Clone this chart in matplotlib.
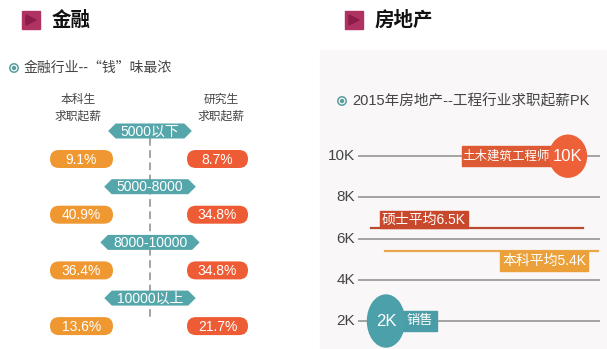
import matplotlib
matplotlib.use("Agg")
import matplotlib.pyplot as plt
from matplotlib.patches import Rectangle, FancyBboxPatch, Polygon, Ellipse, Circle

plt.rcParams['font.family'] = ['Liberation Sans', 'Noto Sans CJK SC', 'DejaVu Sans']

# ---- data ----
salary_bands = ['5000以下', '5000-8000', '8000-10000', '10000以上']
bachelor_pct = [9.1, 40.9, 36.4, 13.6]
master_pct = [8.7, 34.8, 34.8, 21.7]

re_titles = ['土木建筑工程师', '硕士平均', '本科平均', '销售']
re_values = [10, 6.5, 5.4, 2]
re_ticks = [2, 4, 6, 8, 10]

# ---- colours ----
C_BACH = '#ef9832'
C_MAST = '#ee5c36'
C_TEAL = '#55a6ab'
C_TEXT = '#444444'
C_ICON = '#5a9e9e'

W, H = 607, 349
fig = plt.figure(figsize=(W / 100, H / 100), dpi=100)
base = fig.add_axes([0, 0, 1, 1])
base.set_xlim(0, W)
base.set_ylim(H, 0)
base.axis('off')

# right panel background
base.add_patch(Rectangle((320, 50), 287, 299, color='#f9f7f7', zorder=0))


def heading(x, y, label):
    base.add_patch(Rectangle((x, y - 9), 18, 18, color='#b03262', zorder=2))
    base.add_patch(Polygon([(x + 4, y - 5), (x + 4, y + 5), (x + 14, y)],
                           closed=True, color='#8c1d48', zorder=3))
    base.text(x + 30, y, label, fontsize=14, fontweight='bold',
              va='center', ha='left', color='#111111',
              family=['Noto Sans CJK SC'])


def subtitle(x, y, label, size, family=None):
    base.add_patch(Circle((x, y), 4.2, fill=False, ec=C_ICON, lw=1.1, zorder=3))
    base.add_patch(Circle((x, y), 1.5, color=C_ICON, zorder=3))
    kw = {'family': family} if family else {}
    base.text(x + 10, y, label, fontsize=size, va='center', ha='left',
              color=C_TEXT, **kw)


heading(22, 20, '金融')
heading(345, 20, '房地产')
subtitle(14, 68, '金融行业--“钱”味最浓', 10, ['Noto Sans CJK SC', 'DejaVu Sans'])
subtitle(342, 101, '2015年房地产--工程行业求职起薪PK', 10.5)

# ---- left panel: salary band distribution ----
base.text(78, 100, '本科生', fontsize=8.5, ha='center', va='center', color=C_TEXT)
base.text(78, 117, '求职起薪', fontsize=8.5, ha='center', va='center', color=C_TEXT)
base.text(221, 100, '研究生', fontsize=8.5, ha='center', va='center', color=C_TEXT)
base.text(221, 117, '求职起薪', fontsize=8.5, ha='center', va='center', color=C_TEXT)

cx = 150
row0, row_step = 159, 55.7
base.plot([cx, cx], [138, 318], color='#8a8a8a', lw=1.1,
          linestyle=(0, (5, 3)), zorder=1)

fig.canvas.draw()
renderer = fig.canvas.get_renderer()
inv = base.transData.inverted()


def pill(xc, yc, w, h, color, label):
    base.add_patch(FancyBboxPatch((xc - w / 2, yc - h / 2), w, h,
                                  boxstyle=f'round,pad=0,rounding_size={h / 2}',
                                  fc=color, ec='none', zorder=3))
    base.text(xc, yc + 0.5, label, fontsize=10, color='white',
              ha='center', va='center', zorder=4)


for i, band in enumerate(salary_bands):
    yr = row0 + i * row_step
    yb = yr - 28
    t = base.text(cx, yb + 0.5, band, fontsize=10, color='white',
                  ha='center', va='center', zorder=4)
    bb = t.get_window_extent(renderer)
    (x0, _), (x1, _) = inv.transform([(bb.x0, 0), (bb.x1, 0)])
    hh = 7.5
    x0 -= 5
    x1 += 5
    base.add_patch(Polygon([(x0 - hh, yb), (x0, yb - hh), (x1, yb - hh),
                            (x1 + hh, yb), (x1, yb + hh), (x0, yb + hh)],
                           closed=True, fc=C_TEAL, ec='none', zorder=3))
    pill(81.5, yr, 63, 18, C_BACH, f'{bachelor_pct[i]:.1f}%')
    pill(217.5, yr, 61, 18, C_MAST, f'{master_pct[i]:.1f}%')

# ---- right panel: starting salaries (K) ----
px_per_k = 20.6
y_at2 = 321
top_px, bot_px = 120, H
ax = fig.add_axes([320 / W, 0, 287 / W, (bot_px - top_px) / H])
ax.set_xlim(0, 1)
ax.set_ylim(2 + (y_at2 - bot_px) / px_per_k, 2 + (y_at2 - top_px) / px_per_k)
ax.axis('off')
ax.patch.set_alpha(0)
kh = 20 / px_per_k  # label box height in K units

ax.hlines(re_ticks, 0.132, 0.976, color='#8c8c8c', lw=1.1, zorder=1)
for v in re_ticks:
    ax.text(0.122, v, f'{v}K', ha='right', va='center', fontsize=11,
            color='#444444')

# 10K: civil engineer
v = re_values[0]
ax.add_patch(Rectangle((0.495, v - kh / 2), 0.32, kh, color='#dd5a34', zorder=3))
ax.text(0.647, v, re_titles[0], color='white', fontsize=9,
        ha='center', va='center', zorder=5)
ax.add_patch(Ellipse((0.864, v), 0.129, 42 / px_per_k, color='#ee6038', zorder=4))
ax.text(0.864, v, f'{v:g}K', color='white', fontsize=12,
        ha='center', va='center', zorder=5)

# 6.5K: master average
v = re_values[1]
ax.plot([0.178, 0.916], [v, v], color='#b84a30', lw=1.6, zorder=2)
ax.add_patch(Rectangle((0.209, v), 0.307, 0.85, color='#c8482c', zorder=3))
ax.text(0.3625, v + 0.43, f'{re_titles[1]}{v:g}K', color='white', fontsize=10,
        ha='center', va='center', zorder=5)

# 5.4K: bachelor average
v = re_values[2]
ax.plot([0.226, 0.969], [v, v], color='#eaa64a', lw=1.6, zorder=2)
ax.add_patch(Rectangle((0.627, v - 0.97), 0.307, 0.97, color='#eba03a', zorder=3))
ax.text(0.7805, v - 0.48, f'{re_titles[2]}{v:g}K', color='white', fontsize=10,
        ha='center', va='center', zorder=5)

# 2K: sales
v = re_values[3]
ax.add_patch(Rectangle((0.27, v - kh / 2), 0.138, kh, color='#4a9ca6', zorder=3))
ax.text(0.348, v, re_titles[3], color='white', fontsize=9.5,
        ha='center', va='center', zorder=5)
ax.add_patch(Ellipse((0.230, v), 0.129, 52 / px_per_k, color='#4ca0aa', zorder=4))
ax.text(0.230, v, f'{v:g}K', color='white', fontsize=12,
        ha='center', va='center', zorder=5)

fig.savefig('out.png', dpi=100)
